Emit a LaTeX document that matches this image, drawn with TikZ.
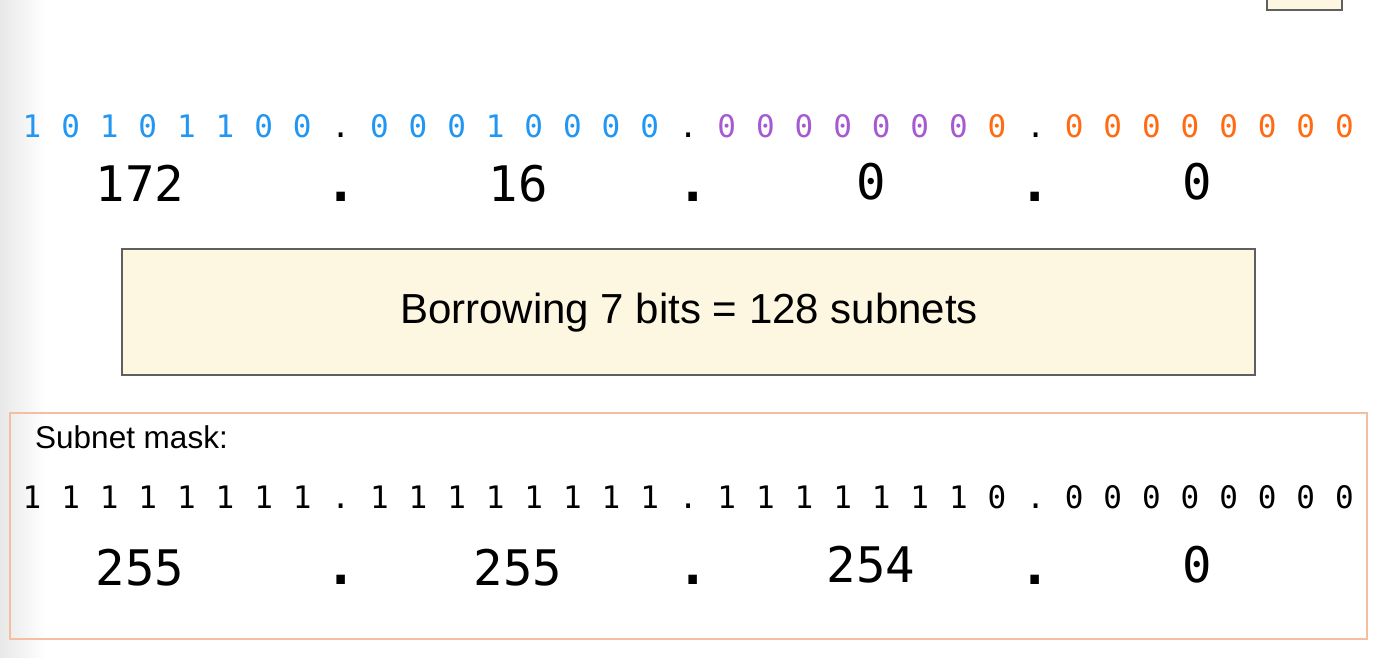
\documentclass[tikz,border=0pt]{standalone}
\usepackage{fontspec}
\setmainfont{Liberation Sans}
\newfontfamily\digitfont{DejaVu Sans Mono}
\definecolor{ipblue}{RGB}{33,150,243}
\definecolor{ippurple}{RGB}{166,90,210}
\definecolor{iporange}{RGB}{255,106,19}
\definecolor{boxcream}{RGB}{253,246,224}
\definecolor{boxedge}{RGB}{95,95,95}
\definecolor{peach}{RGB}{244,190,160}
\tikzset{
  bitchar/.style={anchor=base, inner sep=0pt, font=\digitfont\fontsize{31}{36}\selectfont},
  bigdec/.style={anchor=base, inner sep=0pt, font=\digitfont\fontsize{49}{58}\selectfont},
  bigdot/.style={anchor=base, inner sep=0pt, font=\digitfont\bfseries\fontsize{52}{58}\selectfont},
  infobox/.style={draw=boxedge, line width=1.3pt, fill=boxcream},
  maskbox/.style={draw=peach, line width=1.3pt},
  labeltext/.style={inner sep=0pt, font=\fontsize{42}{48}\selectfont},
  masklabel/.style={anchor=base west, inner sep=0pt, font=\fontsize{31.5}{36}\selectfont}
}
\begin{document}
\begin{tikzpicture}[x=1pt,y=-1pt]
\useasboundingbox (0,0) rectangle (1384,658);
\fill[white] (0,0) rectangle (1384,658);
\shade[left color=black!9, right color=white] (0,0) rectangle (45,658);
% top-right partial box
\draw[infobox] (1267,-5) rectangle (1342,10);
% address bits
\foreach \c/\col [count=\i from 0] in {1/ipblue,0/ipblue,1/ipblue,0/ipblue,1/ipblue,1/ipblue,0/ipblue,0/ipblue,./black,
  0/ipblue,0/ipblue,0/ipblue,1/ipblue,0/ipblue,0/ipblue,0/ipblue,0/ipblue,./black,
  0/ippurple,0/ippurple,0/ippurple,0/ippurple,0/ippurple,0/ippurple,0/ippurple,0/iporange,./black,
  0/iporange,0/iporange,0/iporange,0/iporange,0/iporange,0/iporange,0/iporange,0/iporange}
  \node[bitchar, text=\col] (b\i) at ({32+\i*38.6},138) {\c};
% address decimals
\node[bigdec] (d1) at (140,201) {172};
\node[bigdot] (p1) at (341,201) {.};
\node[bigdec] (d2) at (518,201) {16};
\node[bigdot] (p2) at (693,201) {.};
\node[bigdec] (d3) at (871,199) {0};
\node[bigdot] (p3) at (1035,201) {.};
\node[bigdec] (d4) at (1197,199) {0};
% info box
\draw[infobox] (122,249) rectangle (1255,375);
\node[labeltext] (info) at (689,313) {Borrowing 7 bits = 128 subnets};
% mask box
\draw[maskbox] (10,413) rectangle (1367,639);
\node[masklabel] (ml) at (35,448) {Subnet mask:};
\foreach \c [count=\i from 0] in {1,1,1,1,1,1,1,1,.,1,1,1,1,1,1,1,1,.,1,1,1,1,1,1,1,0,.,0,0,0,0,0,0,0,0}
  \node[bitchar] (m\i) at ({32+\i*38.6},508) {\c};
\node[bigdec] (e1) at (140,585) {255};
\node[bigdot] (q1) at (341,584) {.};
\node[bigdec] (e2) at (518,585) {255};
\node[bigdot] (q2) at (693,584) {.};
\node[bigdec] (e3) at (871,582) {254};
\node[bigdot] (q3) at (1035,584) {.};
\node[bigdec] (e4) at (1197,582) {0};
\end{tikzpicture}
\end{document}
